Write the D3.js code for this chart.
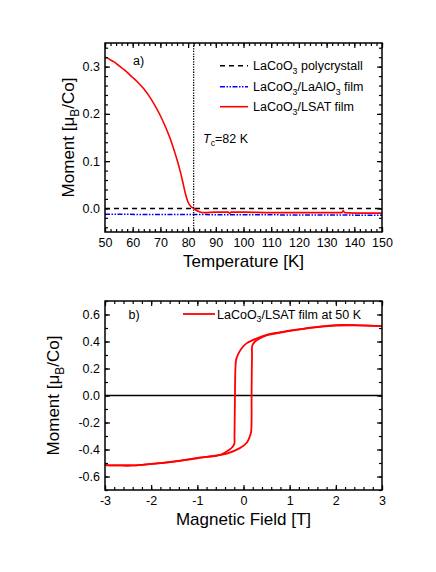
<!DOCTYPE html>
<html>
<head>
<meta charset="utf-8">
<script src="https://cdn.jsdelivr.net/npm/d3@7"></script>
<style>
  body { margin: 0; background: #fff; }
  text { font-family: "Liberation Sans", Arial, sans-serif; fill: #000; }
</style>
</head>
<body>
<div id="chart"></div>
<script>
// panel a: M(T)
var lsatT = [50, 51, 52, 53, 55, 57, 60, 62, 64, 66, 68, 70, 72, 74, 75, 76, 77, 78, 79, 80, 81, 82, 83, 84, 86, 90, 94.5, 95, 95.5, 100, 110, 120, 130, 135.5, 136, 136.5, 140, 150];
var lsatM = [0.320, 0.318, 0.314, 0.311, 0.302, 0.293, 0.277, 0.266, 0.253, 0.237, 0.218, 0.196, 0.170, 0.140, 0.122, 0.103, 0.082, 0.058, 0.032, 0.013, 0.004, 0.0, -0.004, -0.007, -0.009, -0.008, -0.008, -0.011, -0.008, -0.008, -0.009, -0.009, -0.009, -0.009, -0.005, -0.009, -0.010, -0.010];
var polyT = [50, 150];
var polyM = [0, 0];
var laaloT = [50, 100, 150];
var laaloM = [-0.0125, -0.0135, -0.0145];

// panel b: hysteresis loop at 50 K
var descH = [3, 2.5, 2, 1.5, 1, 0.5, 0.36, 0.2, 0.07, -0.05, -0.11, -0.16, -0.175, -0.185, -0.195, -0.2, -0.25, -0.3, -0.5, -1, -1.5, -2, -2.4, -2.7, -3];
var descM = [0.514, 0.52, 0.522, 0.505, 0.48, 0.45, 0.432, 0.41, 0.388, 0.345, 0.31, 0.265, 0.2, 0.0, -0.3, -0.36, -0.385, -0.40, -0.44, -0.462, -0.49, -0.507, -0.518, -0.518, -0.515];
var ascH = [-3, -2.7, -2.4, -2, -1.5, -1, -0.5, -0.36, -0.08, 0.07, 0.14, 0.165, 0.175, 0.18, 0.185, 0.19, 0.25, 0.36, 0.5, 1, 1.5, 2, 2.5, 3];
var ascM = [-0.515, -0.518, -0.518, -0.507, -0.488, -0.465, -0.44, -0.43, -0.39, -0.35, -0.30, -0.27, 0.0, 0.2, 0.30, 0.37, 0.40, 0.425, 0.445, 0.478, 0.503, 0.518, 0.52, 0.514];

var aXTicks = [50, 60, 70, 80, 90, 100, 110, 120, 130, 140, 150];
var aYTicks = [0.0, 0.1, 0.2, 0.3];
var bXTicks = [-3, -2, -1, 0, 1, 2, 3];
var bYTicks = [-0.6, -0.4, -0.2, 0.0, 0.2, 0.4, 0.6];
var Tc = 82;

var width = 436;
var height = 572;

var svg = d3.select('#chart')
    .append('svg')
    .attr('width', width)
    .attr('height', height);

function zip(xs, ys) {
    return xs.map(function(x, i) { return [x, ys[i]]; });
}

function fmt1(d) {
    return d3.format('.1f')(d).replace('\u2212', '-');
}

function range(a, b, s) {
    var out = [];
    for (var v = a; v <= b + 1e-9; v += s) out.push(+v.toFixed(4));
    return out;
}

// draws frame with inward ticks on all sides
function frame(g, x, y, box, xt, yt, xminor, yminor, xfmt, yfmt) {
    var w = box.right - box.left;
    var h = box.bottom - box.top;

    g.append('g')
        .attr('transform', 'translate(0,' + box.bottom + ')')
        .call(d3.axisBottom(x).tickValues(xminor).tickSize(-3).tickFormat(''));
    g.append('g')
        .attr('transform', 'translate(0,' + box.top + ')')
        .call(d3.axisTop(x).tickValues(xminor).tickSize(-3).tickFormat(''));
    g.append('g')
        .attr('transform', 'translate(' + box.left + ',0)')
        .call(d3.axisLeft(y).tickValues(yminor).tickSize(-3).tickFormat(''));
    g.append('g')
        .attr('transform', 'translate(' + box.right + ',0)')
        .call(d3.axisRight(y).tickValues(yminor).tickSize(-3).tickFormat(''));

    g.append('g')
        .attr('class', 'xaxis')
        .attr('transform', 'translate(0,' + box.bottom + ')')
        .call(d3.axisBottom(x).tickValues(xt).tickSize(-5).tickPadding(6).tickFormat(xfmt));
    g.append('g')
        .attr('transform', 'translate(0,' + box.top + ')')
        .call(d3.axisTop(x).tickValues(xt).tickSize(-5).tickFormat(''));
    g.append('g')
        .attr('class', 'yaxis')
        .attr('transform', 'translate(' + box.left + ',0)')
        .call(d3.axisLeft(y).tickValues(yt).tickSize(-5).tickPadding(5).tickFormat(yfmt));
    g.append('g')
        .attr('transform', 'translate(' + box.right + ',0)')
        .call(d3.axisRight(y).tickValues(yt).tickSize(-5).tickFormat(''));

    g.selectAll('.domain').remove();
    g.selectAll('.tick line').attr('stroke', '#000').attr('stroke-width', 1.2);
    g.selectAll('.tick text')
        .attr('fill', '#000')
        .style('font-size', '12.5px')
        .style('font-family', '"Liberation Sans", Arial, sans-serif');

    g.append('rect')
        .attr('x', box.left)
        .attr('y', box.top)
        .attr('width', w)
        .attr('height', h)
        .attr('fill', 'none')
        .attr('stroke', '#000')
        .attr('stroke-width', 1.5);
}

function subText(sel, parts, size) {
    // parts: [text, 'sub'|'it'|null]
    var t = sel.style('font-size', size + 'px');
    var down = false;
    parts.forEach(function(p) {
        var ts = t.append('tspan').text(p[0]);
        if (p[1] === 'sub') {
            ts.style('font-size', (size * 0.7) + 'px').attr('dy', 0.3 * size);
            down = true;
        } else {
            if (down) ts.attr('dy', -0.3 * size);
            down = false;
            if (p[1] === 'it') ts.style('font-style', 'italic');
        }
    });
    return t;
}

/*
 *  PANEL A
 */
var boxA = { left: 105, right: 382, top: 43, bottom: 232 };
var xA = d3.scaleLinear().domain([50, 150]).range([boxA.left, boxA.right]);
var yA = d3.scaleLinear().domain([-0.05, 0.35]).range([boxA.bottom, boxA.top]);

var gA = svg.append('g');

var lineA = d3.line()
    .x(function(d) { return xA(d[0]); })
    .y(function(d) { return yA(d[1]); });

gA.append('path')
    .datum(zip(polyT, polyM))
    .attr('fill', 'none')
    .attr('stroke', '#000')
    .attr('stroke-width', 1.5)
    .attr('stroke-dasharray', '5,4')
    .attr('d', lineA);

gA.append('path')
    .datum(zip(laaloT, laaloM))
    .attr('fill', 'none')
    .attr('stroke', '#0000ff')
    .attr('stroke-width', 1.5)
    .attr('stroke-dasharray', '5,1.5,1.5,1.5,1.5,1.5')
    .attr('d', lineA);

gA.append('path')
    .datum(zip(lsatT, lsatM))
    .attr('fill', 'none')
    .attr('stroke', '#ff0000')
    .attr('stroke-width', 1.6)
    .attr('d', lineA.curve(d3.curveMonotoneX));

gA.append('line')
    .attr('x1', xA(Tc)).attr('x2', xA(Tc))
    .attr('y1', boxA.top).attr('y2', boxA.bottom)
    .attr('stroke', '#000')
    .attr('stroke-width', 1.3)
    .attr('stroke-dasharray', '1.3,1.3');

frame(gA, xA, yA, boxA, aXTicks, aYTicks, range(50, 150, 2), range(-0.04, 0.34, 0.02), d3.format('d'), fmt1);

gA.append('text').attr('x', 133).attr('y', 65).style('font-size', '12.5px').text('a)');

subText(gA.append('text').attr('x', 203).attr('y', 142.5),
    [['T', 'it'], ['c', 'sub'], ['=82 K', null]], 12.5);

// legend a
var legA = [
    { y: 65.7, color: '#000', dash: '5,4', parts: [['LaCoO', null], ['3', 'sub'], [' polycrystall', null]] },
    { y: 86.7, color: '#0000ff', dash: '5,1.5,1.5,1.5,1.5,1.5', parts: [['LaCoO', null], ['3', 'sub'], ['/LaAlO', null], ['3', 'sub'], [' film', null]] },
    { y: 106.7, color: '#ff0000', dash: null, parts: [['LaCoO', null], ['3', 'sub'], ['/LSAT film', null]] }
];
legA.forEach(function(l) {
    gA.append('line')
        .attr('x1', 220).attr('x2', 248)
        .attr('y1', l.y).attr('y2', l.y)
        .attr('stroke', l.color)
        .attr('stroke-width', 1.6)
        .attr('stroke-dasharray', l.dash);
    subText(gA.append('text').attr('x', 253).attr('y', l.y + 4.6), l.parts, 12.5);
});

gA.append('text')
    .attr('x', (boxA.left + boxA.right) / 2)
    .attr('y', 266.5)
    .attr('text-anchor', 'middle')
    .style('font-size', '17px')
    .text('Temperature [K]');

subText(gA.append('text')
    .attr('transform', 'translate(74,' + (boxA.top + boxA.bottom) / 2 + ')rotate(-90)')
    .attr('text-anchor', 'middle'),
    [['Moment [\u03bc', null], ['B', 'sub'], ['/Co]', null]], 17);

/*
 *  PANEL B
 */
var boxB = { left: 105, right: 382, top: 301, bottom: 490 };
var xB = d3.scaleLinear().domain([-3, 3]).range([boxB.left, boxB.right]);
var yB = d3.scaleLinear().domain([-0.7, 0.7]).range([boxB.bottom, boxB.top]);

var gB = svg.append('g');

var lineB = d3.line()
    .x(function(d) { return xB(d[0]); })
    .y(function(d) { return yB(d[1]); })
    .curve(d3.curveCatmullRom.alpha(0.5));

gB.append('line')
    .attr('x1', boxB.left).attr('x2', boxB.right)
    .attr('y1', yB(0)).attr('y2', yB(0))
    .attr('stroke', '#000')
    .attr('stroke-width', 1.3);

gB.append('path')
    .datum(zip(descH, descM))
    .attr('fill', 'none')
    .attr('stroke', '#ff0000')
    .attr('stroke-width', 1.8)
    .attr('stroke-linejoin', 'round')
    .attr('d', lineB);

gB.append('path')
    .datum(zip(ascH, ascM))
    .attr('fill', 'none')
    .attr('stroke', '#ff0000')
    .attr('stroke-width', 1.8)
    .attr('stroke-linejoin', 'round')
    .attr('d', lineB);

frame(gB, xB, yB, boxB, bXTicks, bYTicks, range(-3, 3, 0.2), range(-0.7, 0.7, 0.1), function(d) { return String(d).replace('\u2212', '-'); }, fmt1);

gB.append('text').attr('x', 128.5).attr('y', 319).style('font-size', '12.5px').text('b)');

gB.append('line')
    .attr('x1', 183).attr('x2', 215)
    .attr('y1', 314).attr('y2', 314)
    .attr('stroke', '#ff0000')
    .attr('stroke-width', 1.8);
subText(gB.append('text').attr('x', 217).attr('y', 318.6),
    [['LaCoO', null], ['3', 'sub'], ['/LSAT film at 50 K', null]], 12.5);

gB.append('text')
    .attr('x', (boxB.left + boxB.right) / 2)
    .attr('y', 524.5)
    .attr('text-anchor', 'middle')
    .style('font-size', '17px')
    .text('Magnetic Field [T]');

subText(gB.append('text')
    .attr('transform', 'translate(59,' + (boxB.top + boxB.bottom) / 2 + ')rotate(-90)')
    .attr('text-anchor', 'middle'),
    [['Moment [\u03bc', null], ['B', 'sub'], ['/Co]', null]], 17);
</script>
</body>
</html>
